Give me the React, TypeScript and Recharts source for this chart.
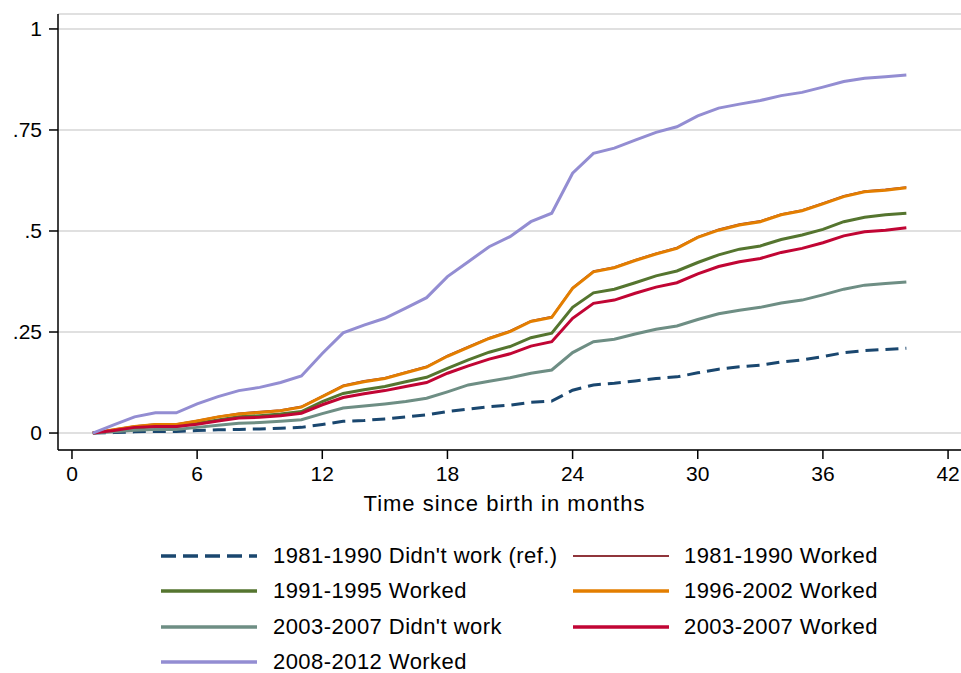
import React from "react";
import { LineChart, Line, XAxis, YAxis, CartesianGrid, Label } from "recharts";

const months = [1,2,3,4,5,6,7,8,9,10,11,12,13,14,15,16,17,18,19,20,21,22,23,24,25,26,27,28,29,30,31,32,33,34,35,36,37,38,39,40];

const s1981NoWork = [0,0.001,0.003,0.004,0.004,0.006,0.008,0.009,0.010,0.012,0.014,0.021,0.029,0.031,0.035,0.040,0.045,0.053,0.059,0.065,0.069,0.076,0.079,0.106,0.119,0.123,0.129,0.135,0.139,0.149,0.158,0.164,0.168,0.176,0.181,0.189,0.199,0.204,0.207,0.210];
const s1981Work = [0,0.009,0.017,0.022,0.022,0.031,0.041,0.049,0.053,0.057,0.066,0.092,0.118,0.129,0.137,0.151,0.165,0.192,0.214,0.236,0.253,0.278,0.288,0.360,0.401,0.411,0.429,0.445,0.459,0.486,0.504,0.517,0.525,0.542,0.552,0.569,0.587,0.599,0.603,0.609];
const s1991Work = [0,0.006,0.012,0.016,0.016,0.024,0.032,0.040,0.043,0.047,0.053,0.078,0.098,0.107,0.115,0.127,0.138,0.160,0.181,0.200,0.214,0.236,0.247,0.311,0.347,0.356,0.372,0.389,0.401,0.422,0.441,0.455,0.463,0.479,0.490,0.504,0.523,0.534,0.540,0.544];
const s1996Work = [0,0.008,0.016,0.021,0.021,0.030,0.040,0.047,0.051,0.055,0.064,0.090,0.116,0.127,0.135,0.149,0.163,0.190,0.212,0.234,0.251,0.276,0.286,0.358,0.399,0.409,0.427,0.443,0.457,0.484,0.502,0.515,0.523,0.540,0.550,0.567,0.585,0.597,0.601,0.607];
const s2003NoWork = [0,0.003,0.007,0.009,0.009,0.014,0.019,0.024,0.026,0.029,0.033,0.048,0.062,0.067,0.072,0.078,0.086,0.102,0.119,0.128,0.137,0.148,0.156,0.199,0.226,0.232,0.245,0.257,0.265,0.281,0.295,0.304,0.311,0.322,0.329,0.342,0.356,0.366,0.370,0.374];
const s2003Work = [0,0.006,0.014,0.016,0.016,0.022,0.030,0.037,0.039,0.043,0.049,0.070,0.088,0.097,0.105,0.115,0.125,0.148,0.166,0.183,0.196,0.215,0.226,0.284,0.321,0.329,0.346,0.361,0.372,0.394,0.412,0.424,0.432,0.447,0.457,0.471,0.488,0.498,0.502,0.508];
const s2008Work = [0,0.020,0.040,0.050,0.050,0.072,0.090,0.105,0.113,0.125,0.141,0.197,0.248,0.267,0.284,0.309,0.335,0.387,0.424,0.461,0.486,0.523,0.544,0.643,0.692,0.705,0.725,0.744,0.758,0.785,0.804,0.814,0.823,0.835,0.843,0.856,0.870,0.878,0.882,0.886];

const xTicks = [0, 6, 12, 18, 24, 30, 36, 42];
const yTicks = [0, 0.25, 0.5, 0.75, 1];
const yTickLabels: Record<string, string> = { "0": "0", "0.25": ".25", "0.5": ".5", "0.75": ".75", "1": "1" };

const seriesNames = [
  "1981-1990 Didn't work (ref.)",
  "1981-1990 Worked",
  "1991-1995 Worked",
  "1996-2002 Worked",
  "2003-2007 Didn't work",
  "2003-2007 Worked",
  "2008-2012 Worked",
];
const seriesKeys = ["a", "b", "c", "d", "e", "f", "g"];
const seriesColors = ["#1a476f", "#90353b", "#55752f", "#e37e00", "#6e8e84", "#c10534", "#938dd2"];
const seriesWidths = [3, 1.6, 3, 3, 3, 3, 3];
const seriesDash = ["13 7", undefined, undefined, undefined, undefined, undefined, undefined];
const seriesValues = [s1981NoWork, s1981Work, s1991Work, s1996Work, s2003NoWork, s2003Work, s2008Work];

const data = months.map((m, i) => {
  const row: Record<string, number> = { month: m };
  seriesKeys.forEach((k, j) => {
    row[k] = seriesValues[j][i];
  });
  return row;
});

const FONT = '"Liberation Sans", Arial, Helvetica, sans-serif';

const legendOrder = [
  [0, 1],
  [2, 3],
  [4, 5],
  [6],
];

function LegendBlock() {
  const rowTops = [556, 591, 627, 662];
  const colLineX = [161, 573];
  const colTextX = [273, 684];
  return (
    <>
      {legendOrder.map((row, r) =>
        row.map((idx, c) => (
          <React.Fragment key={`${r}-${c}`}>
            <svg
              style={{ position: "absolute", left: colLineX[c], top: rowTops[r] - 5, overflow: "visible" }}
              width={96}
              height={10}
            >
              <line
                x1={0}
                x2={96}
                y1={5}
                y2={5}
                stroke={seriesColors[idx]}
                strokeWidth={seriesWidths[idx] + 0.5}
                strokeDasharray={idx === 0 ? "15 7" : undefined}
              />
            </svg>
            <div
              style={{
                position: "absolute",
                left: colTextX[c],
                top: rowTops[r] - 13,
                fontFamily: FONT,
                fontSize: 22,
                letterSpacing: 0.45,
                lineHeight: "26px",
                color: "#000",
                whiteSpace: "nowrap",
              }}
            >
              {seriesNames[idx]}
            </div>
          </React.Fragment>
        ))
      )}
    </>
  );
}

export default function App() {
  return (
    <div style={{ position: "absolute", left: 0, top: 0, width: 961, height: 673, background: "#fff" }}>
      <LineChart
        width={961}
        height={673}
        data={data}
        margin={{ top: 14, right: 0, bottom: 0, left: 0 }}
        style={{ fontFamily: FONT }}
      >
        <CartesianGrid vertical={false} stroke="#d6d6d6" strokeWidth={1.5} />
        <XAxis
          dataKey="month"
          type="number"
          domain={[-0.67, 42.62]}
          ticks={xTicks}
          allowDataOverflow
          height={223}
          tickSize={9}
          tickMargin={7}
          stroke="#000"
          strokeWidth={1.5}
          tick={{ fill: "#000", fontSize: 21, fontFamily: FONT }}
          tickLine={{ stroke: "#000", strokeWidth: 1.5 }}
        >
          <Label
            value="Time since birth in months"
            position="insideTop"
            offset={45}
            dx={-5}
            style={{ fill: "#000", fontSize: 22, fontFamily: FONT, letterSpacing: 1 }}
          />
        </XAxis>
        <YAxis
          type="number"
          domain={[-0.042, 1.037]}
          ticks={yTicks}
          allowDataOverflow
          width={58}
          tickSize={9}
          tickMargin={7}
          stroke="#000"
          strokeWidth={1.5}
          tickFormatter={(v: number) => yTickLabels[String(v)] ?? String(v)}
          tick={{ fill: "#000", fontSize: 21, fontFamily: FONT }}
          tickLine={{ stroke: "#000", strokeWidth: 1.5 }}
        />
        {seriesKeys.map((k, j) => (
          <Line
            key={k}
            type="linear"
            dataKey={k}
            name={seriesNames[j]}
            stroke={seriesColors[j]}
            strokeWidth={seriesWidths[j]}
            strokeDasharray={seriesDash[j]}
            dot={false}
            activeDot={false}
            isAnimationActive={false}
          />
        ))}
      </LineChart>
      <LegendBlock />
    </div>
  );
}
